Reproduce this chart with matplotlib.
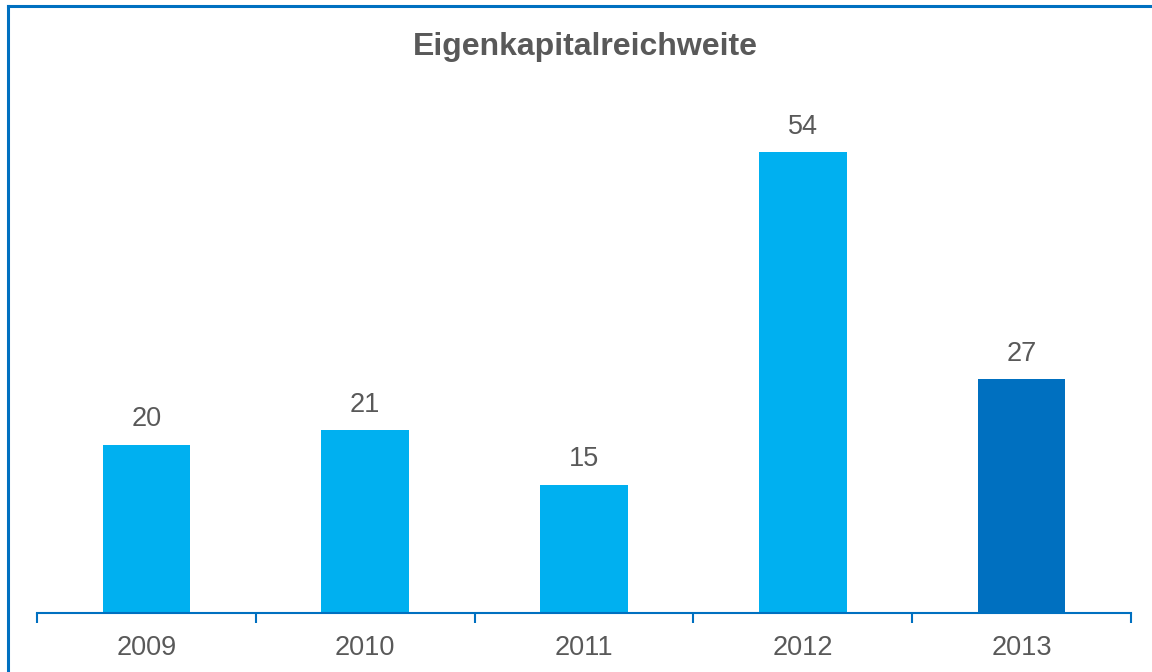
import matplotlib
matplotlib.use("Agg")
import matplotlib.pyplot as plt
from matplotlib.lines import Line2D

plt.rcParams['font.family'] = ['Liberation Sans', 'DejaVu Sans']

years = ['2009', '2010', '2011', '2012', '2013']
values = [19.7, 21.4, 15.0, 54.0, 27.4]
colors = ['#00B0F0', '#00B0F0', '#00B0F0', '#00B0F0', '#0070C0']

text_color = '#595959'
axis_color = '#0070C0'

fig = plt.figure(figsize=(11.52, 6.72), dpi=100)
ax = fig.add_axes([37 / 1152, 59 / 672, (1131 - 37) / 1152, (613 - 101) / 672])

x = range(len(years))
bars = ax.bar(x, values, width=0.4, color=colors, zorder=2)

for xi, v in zip(x, values):
    ax.annotate(f"{v:.0f}", (xi, v), xytext=(0, 9), textcoords='offset points',
                ha='center', va='bottom', fontsize=19.5, color=text_color)

ax.set_xlim(-0.5, len(years) - 0.5)
ax.set_ylim(0, 60)
ax.set_xticks(list(x))
ax.set_xticklabels(years, fontsize=19.5, color=text_color)
ax.set_xticks([i - 0.5 for i in range(len(years) + 1)], minor=True)
ax.tick_params(axis='x', which='major', length=0, pad=16)
ax.tick_params(axis='x', which='minor', length=7, width=1.5, color=axis_color)
ax.set_yticks([])

for s in ['top', 'right', 'left']:
    ax.spines[s].set_visible(False)
ax.spines['bottom'].set_color(axis_color)
ax.spines['bottom'].set_linewidth(1.5)

fig.text(585 / 1152, 1 - 47 / 672, "Eigenkapitalreichweite", ha='center', va='center',
         fontsize=23, fontweight='bold', color=text_color)

# frame around the chart (only left and top edges are visible)
bx = 7.5 / 1152
by = 1 - 5.5 / 672
fig.add_artist(Line2D([bx, bx], [0, by], transform=fig.transFigure, color=axis_color, lw=2.2))
fig.add_artist(Line2D([bx, 1], [by, by], transform=fig.transFigure, color=axis_color, lw=2.2))

fig.savefig("out.png", dpi=100)
